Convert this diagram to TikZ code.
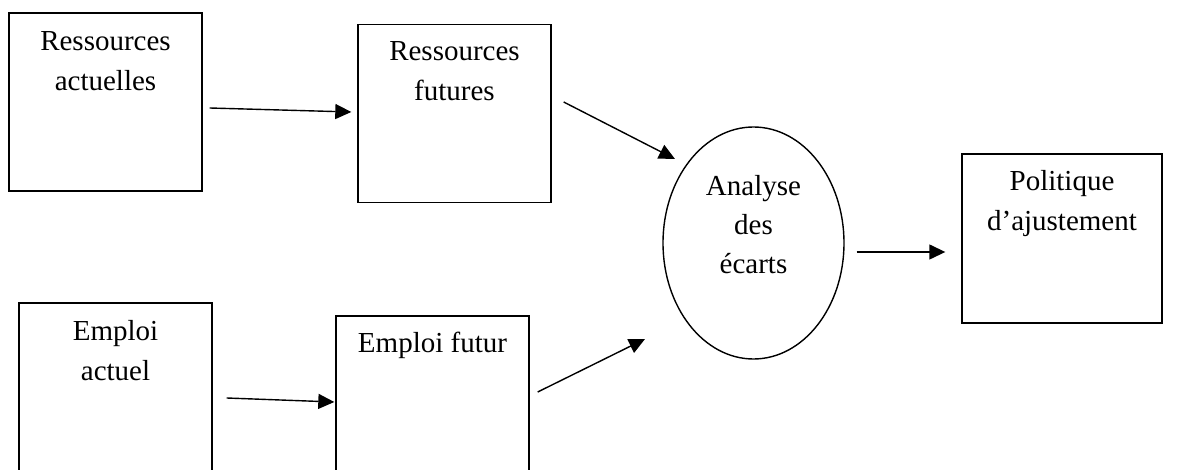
\documentclass[tikz,border=0pt]{standalone}
\usepackage{fontspec}
\setmainfont{Liberation Serif}
\usetikzlibrary{shapes.geometric,arrows.meta,calc}
\tikzset{
  box/.style={draw, line width=1.4pt, rectangle, inner sep=0pt, minimum width=193pt, minimum height=178pt},
  oval/.style={draw, line width=1.4pt, ellipse, inner sep=0pt, minimum width=181pt, minimum height=232pt},
  txt/.style={anchor=base, inner sep=0pt, font=\fontsize{29}{40}\selectfont},
  arr/.style={line width=1.4pt, -{Triangle[length=16pt,width=15pt]}}
}
\begin{document}
\begin{tikzpicture}[x=1pt, y=-1pt]
  \useasboundingbox (0,0) rectangle (1197,470);
  \clip (0,0) rectangle (1197,470);

  % boxes and the central ellipse
  \node[box] (b1) at (105.5,102) {};
  \node[box] (b2) at (454.5,113.5) {};
  \node[box] (b4) at (115.5,392) {};
  \node[box] (b5) at (432.5,405) {};
  \node[box, minimum width=200pt, minimum height=169pt] (b3) at (1062,238.5) {};
  \node[oval] (e) at (753.5,243) {};

  % labels
  \node[txt] (b1l1) at ($(b1.north)+(0,38)$) {Ressources};
  \node[txt] (b1l2) at ($(b1.north)+(0,78)$) {actuelles};
  \node[txt] (b2l1) at ($(b2.north)+(0,37)$) {Ressources};
  \node[txt] (b2l2) at ($(b2.north)+(0,77)$) {futures};
  \node[txt] (b4l1) at ($(b4.north)+(0,38)$) {Emploi};
  \node[txt] (b4l2) at ($(b4.north)+(0,78)$) {actuel};
  \node[txt] (b5l1) at ($(b5.north)+(0,37)$) {Emploi futur};
  \node[txt] (b3l1) at ($(b3.north)+(0,37)$) {Politique};
  \node[txt] (b3l2) at ($(b3.north)+(0,77)$) {d’ajustement};
  \node[txt] (el1) at ($(e.center)+(0,-47)$) {Analyse};
  \node[txt] (el2) at ($(e.center)+(0,-8)$) {des};
  \node[txt] (el3) at ($(e.center)+(0,31)$) {écarts};

  % connectors
  \draw[arr] ($(b1.east)+(7,6)$) -- ($(b2.west)+(-6,-1.5)$);
  \draw[arr] ($(b2.east)+(12,-11.5)$) -- ($(e.center)+(-78.5,-84)$);
  \draw[arr] ($(b4.east)+(14,6)$) -- ($(b5.west)+(-1,-3)$);
  \draw[arr] ($(b5.east)+(8,-13)$) -- ($(e.center)+(-108.5,96)$);
  \draw[arr] ($(e.east)+(12,9)$) -- ($(b3.west)+(-16,13.5)$);
\end{tikzpicture}
\end{document}
